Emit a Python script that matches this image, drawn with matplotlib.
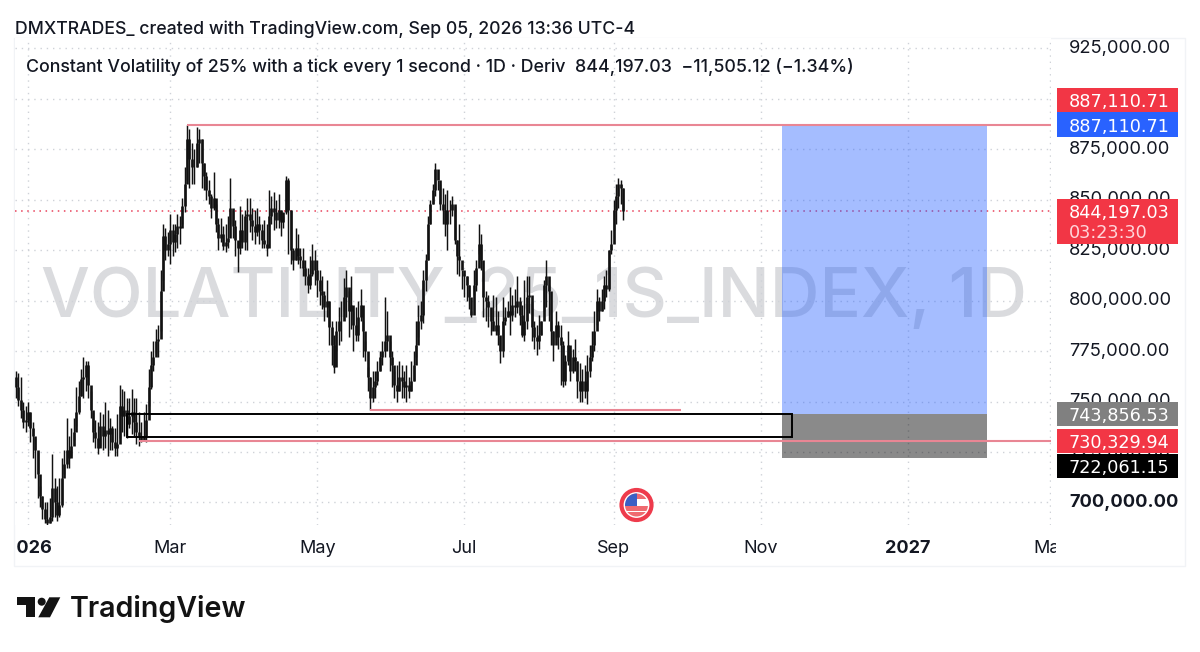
import numpy as np
import pandas as pd
import matplotlib
matplotlib.use("Agg")
import matplotlib.pyplot as plt
from matplotlib.patches import Rectangle, Circle, Polygon
from matplotlib.transforms import Affine2D, Bbox

plt.rcParams['font.family'] = ['Inter', 'DejaVu Sans']

# daily bars, prices in thousands
highs = [765,764,762,750,748,750,745,740,732,725,
         708,703,700,700,702,724,712,708,712,722,
         726,742,733,737,742,757,760,766,772,770,
         770,755,745,741,740,745,744,750,746,742,
         738,737,744,758,756,755,752,752,756,752,
         752,745,740,745,749,766,775,780,786,788,
         815,838,836,834,843,838,838,843,842,851,
         866,887.1,885,878,875,886,885,880,868,864,
         860,853,864,848,841,841,837,838,842,861,
         845,840,829,847,843,845,851,851,846,845,
         846,842,838,840,838,855,852,854,850,853,
         845,842,862,861,845,826,836,833,826,826,
         820,816,822,828,825,820,815,812,805,810,
         800,790,783,790,797,800,811,815,805,812,
         795,797,800,806,790,780,767,762,765,765,
         770,775,780,802,795,780,775,765,768,770,
         768,765,768,762,770,775,790,798,800,815,
         823,842,850,858,868,860,858,856,853,855,
         850,852,847,830,838,815,813,812,808,795,
         815,820,838,833,815,805,803,796,803,802,
         795,782,802,797,800,807,803,806,812,802,
         798,810,812,812,800,790,788,793,790,810,
         820,808,790,785,795,790,788,780,773,785,
         775,776,781,770,769,766,768,773,778,785,
         795,806,802,806,812,815,825,835,850,858,861,860,855.7]
lows = [752,748,742,737,735,738,730,722,712,702,
        698,692,690,689,690,691,693,691,693,698,
        714,717,717,723,731,738,744,753,752,755,
        752,742,730,727,724,728,726,727,723,726,
        726,723,723,732,735,733,732,737,734,733,
        729,728,730,730.3,730,748,756,765,774,772,
        785,810,820,822,818,822,824,826,828,838,
        844,860,856,858,858,866,868,856,855,850,
        848,841,845,834,825,829,825,824,826,838,
        831,822,814,823,826,825,825,834,830,828,
        832,828,826,826,822,837,838,835,836,836,
        832,836,843,823,818,815,820,818,816,812,
        808,804,806,812,808,802,798,796,790,792,
        778,768,764,775,778,780,795,792,782,786,
        775,780,780,790,772,770,755,745.8,750,752,
        758,765,768,772,775,765,757,752,750,755,
        752,752,750,752,755,760,772,782,786,789,
        805,820,838,848,852,855,845,838,832,825,
        838,842,828,813,812,806,802,800,796,792,
        803,805,823,815,792,790,787,783,786,783,
        778,769,772,788,792,783,790,792,794,788,
        782,780,786,794,780,776,773,776,783,795,
        797,790,778,770,782,776,758,757,758,768,
        760,764,765,752,750,750,752,749,762,770,
        775,788,790,795,796,802,805,823,835,838,846,848,840]
closes = [757,751,746,740,741,745,737,733,726,714,
          703,697,692,690,693,707,700,694,699,712,
          719,726,722,728,735,745,753,761,762,768,
          758,746,735,732,727,738,733,736,734,737,
          730,727,729,748,743,746,739,743,745,740,
          735,733,731,733,741,757,768,772,780,781,
          805,832,825,828,835,829,833,837,836,847,
          858,880,870,866,866,878,880,868,862,855,
          852,846,851,838,831,833,827,829,831,846,
          837,830,826,835,829,842,843,840,837,834,
          838,835,830,828,826,842,846,844,840,845,
          839,844,860,845,825,820,826,822,820,816,
          812,808,813,820,815,810,805,803,797,800,
          787,778,767,785,790,790,802,807,795,798,
          788,783,792,798,785,775,762,752,757,760,
          765,772,775,780,783,772,768,758,755,762,
          760,757,758,755,760,768,778,790,793,810,
          820,838,848,855,865,860,848,845,838,845,
          845,848,830,822,820,815,812,808,802,793,
          808,816,828,820,802,800,797,790,785,788,
          783,775,790,792,795,793,798,797,800,793,
          783,790,802,803,787,782,780,783,790,808,
          812,805,785,778,788,782,778,760,770,778,
          765,772,770,760,755,760,755,765,772,778,
          785,800,795,800,808,806,825,828,845,852,858,855.7,844.197]
first_open = 762

price_ticks = [700, 725, 750, 775, 800, 825, 850, 875, 900, 925]
price_labels = ['700,000.00', '725,000.00', '750,000.00', '775,000.00', '800,000.00',
                '825,000.00', '850,000.00', '875,000.00', '900,000.00', '925,000.00']
date_ticks = ['2026-01-01', '2026-03-01', '2026-05-01', '2026-07-01',
              '2026-09-01', '2026-11-01', '2027-01-01', '2027-03-01']
date_labels = ['2026', 'Mar', 'May', 'Jul', 'Sep', 'Nov', '2027', 'Mar']
bold_dates = ['2026', '2027']

# drawn levels
last_price = 844.197
top_level = 887.11071
bottom_level = 730.32994
swing_low = 745.8
entry = 743.85653
stop = 722.06115
zone_top = 743.85653
zone_bottom = 732.6

first_day = pd.Timestamp('2025-12-27')


def day(d):
    return (pd.Timestamp(d) - first_day).days


W, H = 1200, 652
fig = plt.figure(figsize=(W / 100, H / 100), dpi=100, facecolor='white')
# pixel coordinates measured from the top left of the image
px = Affine2D().scale(1, -1).translate(0, H)

AX_L, AX_R, AX_T, AX_B = 15, 1051, 38, 525
ax = fig.add_axes([AX_L / W, 1 - AX_B / H, (AX_R - AX_L) / W, (AX_B - AX_T) / H])
ax.set_facecolor('white')
ax.set_xlim((AX_L - 15.95) / 2.41, (AX_R - 15.95) / 2.41)
ax.set_ylim(948.98 - 0.4955 * AX_B, 948.98 - 0.4955 * AX_T)
for s in ax.spines.values():
    s.set_visible(False)

# panel border
fig.add_artist(Rectangle((14, 38), 1171, 528, transform=px, fill=False, ec='#f1f3f6', lw=1, zorder=-1))

# grid
grid_kw = dict(color='#cfd2d8', lw=1, ls=(0, (1, 3.5)), zorder=1)
for p in price_ticks:
    ax.axhline(p, **grid_kw)
for d in date_ticks:
    ax.axvline(day(d), **grid_kw)

# watermark
ax.text(0.5005, 0.427, 'VOLATILITY_25_1S_INDEX, 1D', transform=ax.transAxes,
        fontsize=49.7, fontweight='medium', color='#dadbde', ha='center', va='baseline', zorder=0.5)

# candles, each bar opens where the previous one closed
x = np.arange(len(closes))
highs_a, lows_a, closes_a = np.array(highs), np.array(lows), np.array(closes)
opens_a = np.r_[first_open, closes_a[:-1]]
ax.vlines(x, lows_a, highs_a, color='#111111', lw=1.05, zorder=3)
ax.vlines(x, np.minimum(opens_a, closes_a), np.maximum(opens_a, closes_a), color='#111111', lw=1.9, zorder=3)

# last price line
ax.axhline(last_price, color='#e8415a', lw=1.1, ls=(0, (1, 3)), zorder=2)

# long position tool
left, right = day('2026-11-10'), day('2027-02-03')
ax.add_patch(Rectangle((left, entry), right - left, top_level - entry, fc='#2962ff', alpha=0.42, lw=0, zorder=4))
ax.add_patch(Rectangle((left, stop), right - left, entry - stop, fc='#000000', alpha=0.46, lw=0, zorder=4))

# zone box
ax.add_patch(Rectangle((day('2026-02-11'), zone_bottom), day('2026-11-14') - day('2026-02-11'),
                       zone_top - zone_bottom, fill=False, ec='#000000', lw=1.4, zorder=5))

# levels
red = '#e98694'
xmax = ax.get_xlim()[1]
ax.plot([day('2026-03-08'), xmax], [top_level, top_level], color=red, lw=1.5, zorder=6, solid_capstyle='butt')
ax.plot([day('2026-02-16'), xmax], [bottom_level, bottom_level], color=red, lw=1.5, zorder=6, solid_capstyle='butt')
ax.plot([day('2026-05-23'), day('2026-09-29')], [swing_low, swing_low], color=red, lw=1.5, zorder=6, solid_capstyle='butt')

# axes labels
ax.yaxis.tick_right()
ax.set_yticks(price_ticks)
ax.set_yticklabels(price_labels, fontsize=13.2, color='#131722', va='center')
ax.tick_params(axis='y', length=0, pad=13)
ax.set_xticks([day(d) for d in date_ticks])
ax.set_xticklabels(date_labels, fontsize=13, color='#131722')
ax.tick_params(axis='x', length=0, pad=10.5)
for lab in ax.get_xticklabels():
    if lab.get_text() in bold_dates:
        lab.set_fontweight('bold')
    lab.set_clip_on(True)
    lab.set_clip_box(Bbox([[16, H - 566], [1056, H - 523]]))
for lab in ax.get_yticklabels():
    if lab.get_text() == '700,000.00':
        lab.set_fontweight('bold')

# price labels over the scale, digits need equal widths here
boxes = [(88, 112, '#f23645', '887,110.71', None),
         (112, 137, '#2962ff', '887,110.71', None),
         (199, 244, '#f23645', '844,197.03', '03:23:30'),
         (402, 426, '#808080', '743,856.53', None),
         (429, 453, '#f23645', '730,329.94', None),
         (454, 478, '#000000', '722,061.15', None)]
for top, bottom, color, label, sub in boxes:
    fig.add_artist(Rectangle((1057, top), 121, bottom - top, transform=px, fc=color, ec='none', zorder=2))
    if sub is None:
        fig.text(1069 / W, 1 - (top + bottom) / 2 / H, label, color='white', fontsize=12.7,
                 family='DejaVu Sans', ha='left', va='center_baseline', zorder=3)
    else:
        fig.text(1069 / W, 1 - (top + 11.5) / H, label, color='white', fontsize=12.7,
                 family='DejaVu Sans', ha='left', va='center_baseline', zorder=3)
        fig.text(1069 / W, 1 - (top + 32) / H, sub, color='#ffd5da', fontsize=12.7,
                 family='DejaVu Sans', ha='left', va='center_baseline', zorder=3)

# header and legend
fig.text(15 / W, 1 - 27 / H, 'DMXTRADES_ created with TradingView.com, Sep 05, 2026 13:36 UTC-4',
         fontsize=12.72, fontweight='medium', color='#131722', ha='left', va='center_baseline', zorder=3)
fig.text(26 / W, 1 - 64.5 / H, 'Constant Volatility of 25% with a tick every 1 second \u00b7 1D \u00b7 Deriv  844,197.03  \u221211,505.12 (\u22121.34%)',
         fontsize=12.82, fontweight='medium', color='#131722', ha='left', va='center_baseline', zorder=3)

# flag marker
cx, cy = 636.5, 505
fig.add_artist(Circle((cx, cy), 17, transform=px, fc='white', ec='none', zorder=2))
fig.add_artist(Circle((cx, cy), 15, transform=px, fc='white', ec='#ee3b4c', lw=3, zorder=2))
clip = Circle((cx, cy), 11.5, transform=px, fc='white', ec='none', zorder=2)
fig.add_artist(clip)
for y0, h, c, x0, w in [(cy - 12, 6, '#ef6a70', cx - 12, 24), (cy + 1, 5, '#ef6a70', cx - 12, 24),
                        (cy + 7, 5, '#ef6a70', cx - 12, 24), (cy - 12, 13, '#3b5fc4', cx - 12, 12)]:
    r = Rectangle((x0, y0), w, h, transform=px, fc=c, ec='none', zorder=2.1)
    fig.add_artist(r)
    r.set_clip_path(clip)

# logo
logo = '#131313'
for pts in [[(17.3, 597.3), (35, 597.3), (35, 617.3), (26, 617.3), (26, 605), (17.3, 605)],
            [(49.3, 597.3), (60.3, 597.3), (50, 617.3), (38.3, 617.3)]]:
    fig.add_artist(Polygon(pts, closed=True, transform=px, fc=logo, ec='none', zorder=2))
fig.add_artist(Circle((41.7, 601.7), 4, transform=px, fc=logo, ec='none', zorder=2))
fig.text(70 / W, 1 - 617.3 / H, 'TradingView', fontsize=20.6, fontweight='semibold', color=logo,
         ha='left', va='baseline', zorder=3)

fig.savefig('out.png', dpi=100, facecolor='white')
